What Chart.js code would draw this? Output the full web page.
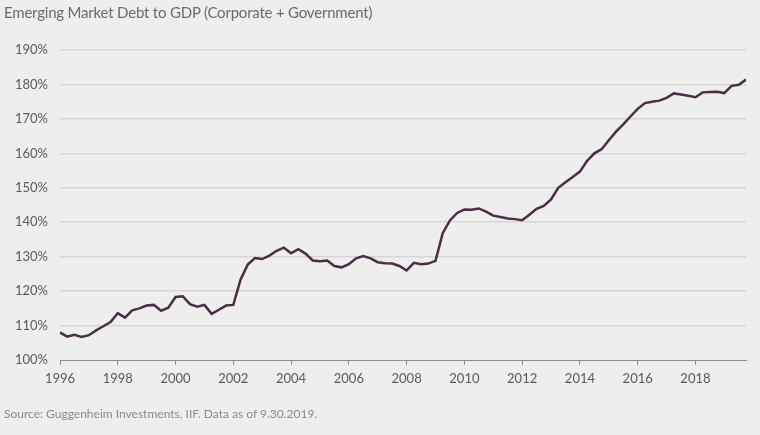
<!DOCTYPE html>
<html>
<head>
<meta charset="utf-8">
<script src="https://cdn.jsdelivr.net/npm/chart.js@4.4.1/dist/chart.umd.min.js"></script>
<style>
	html, body { margin: 0; padding: 0; background: #eeeeee; }
	#wrap { position: relative; width: 760px; height: 435px; overflow: hidden; }
	#title { position: absolute; left: 4px; top: 3px; font: 15px Lato, sans-serif; letter-spacing: -0.2px; color: #6a6a6a; }
	#source { position: absolute; left: 4px; top: 406px; font: 12px Lato, sans-serif; color: #8a8a8a; }
	canvas { position: absolute; left: 0; top: 0; }
</style>
</head>
<body>
<div id="wrap">
	<canvas id="debtChart" width="760" height="435"></canvas>
	<div id="title">Emerging Market Debt to GDP (Corporate + Government)</div>
	<div id="source">Source: Guggenheim Investments, IIF. Data as of 9.30.2019.</div>
</div>
<script>
// Quarterly, Q1 1996 .. Q4 2019
const startYear = 1996;
const quarters = [];
for (let i = 0; i < 96; i++) quarters.push(startYear + i / 4);

// Debt to GDP, %
const debtToGdp = [
	108.0, 106.8, 107.3, 106.7,
	107.2, 108.6, 109.8, 111.0,
	113.6, 112.3, 114.4, 115.0,
	115.8, 116.0, 114.3, 115.2,
	118.3, 118.5, 116.2, 115.5,
	116.0, 113.4, 114.6, 115.8,
	116.0, 123.3, 127.7, 129.6,
	129.3, 130.3, 131.7, 132.6,
	131.0, 132.2, 130.9, 128.9,
	128.7, 128.9, 127.3, 126.9,
	127.8, 129.5, 130.2, 129.5,
	128.4, 128.1, 128.0, 127.3,
	126.0, 128.2, 127.8, 128.0,
	128.8, 136.8, 140.5, 142.7,
	143.7, 143.6, 144.0, 143.1,
	141.9, 141.5, 141.1, 140.9,
	140.6, 142.2, 143.9, 144.7,
	146.6, 150.0, 151.6, 153.1,
	154.7, 157.8, 160.0, 161.2,
	163.8, 166.3, 168.4, 170.7,
	172.9, 174.6, 175.0, 175.3,
	176.1, 177.4, 177.1, 176.7,
	176.3, 177.7, 177.8, 177.9,
	177.5, 179.6, 179.9, 181.4
];

// Axis ticks
const yTicks = [100, 110, 120, 130, 140, 150, 160, 170, 180, 190];
const xTicks = [1996, 1998, 2000, 2002, 2004, 2006, 2008, 2010, 2012, 2014, 2016, 2018];

document.addEventListener('DOMContentLoaded', function() {
	const lineColor = '#4b2d47',
		gridColor = '#d6d6d6',
		axisColor = '#8c8c8c',
		labelColor = '#5a5a5a';

	const points = quarters.map(function(q, i) {
		return { x: q, y: debtToGdp[i] };
	});

	new Chart(document.getElementById('debtChart'), {
		type: 'line',
		data: {
			datasets: [
				{
					data: points,
					borderColor: lineColor,
					borderWidth: 2.5,
					pointRadius: 0,
					tension: 0,
					fill: false
				}
			]
		},
		options: {
			responsive: false,
			animation: false,
			layout: {
				padding: { top: 50, right: 14, bottom: 0, left: 0 }
			},
			plugins: {
				legend: { display: false },
				tooltip: { enabled: false }
			},
			scales: {
				x: {
					type: 'linear',
					min: quarters[0],
					max: quarters[quarters.length - 1],
					afterFit: function(scale) { scale.height = 75; },
					afterBuildTicks: function(scale) {
						scale.ticks = xTicks.map(function(v) { return { value: v }; });
					},
					grid: {
						drawOnChartArea: false,
						drawTicks: true,
						tickLength: 5,
						color: axisColor
					},
					border: { display: true, color: axisColor, width: 1 },
					ticks: {
						padding: 6,
						maxRotation: 0,
						color: labelColor,
						font: { family: 'Lato', size: 13 },
						callback: function(v) { return String(v); }
					}
				},
				y: {
					min: yTicks[0],
					max: yTicks[yTicks.length - 1],
					afterFit: function(scale) { scale.width = 60; },
					afterBuildTicks: function(scale) {
						scale.ticks = yTicks.map(function(v) { return { value: v }; });
					},
					grid: {
						drawTicks: false,
						color: function(ctx) {
							return ctx.tick && ctx.tick.value === yTicks[0] ? 'rgba(0,0,0,0)' : gridColor;
						},
						lineWidth: 1.5
					},
					border: { display: false },
					ticks: {
						padding: 12,
						color: labelColor,
						font: { family: 'Lato', size: 13 },
						callback: function(v) { return v + '%'; }
					}
				}
			}
		}
	});
});
</script>
</body>
</html>
